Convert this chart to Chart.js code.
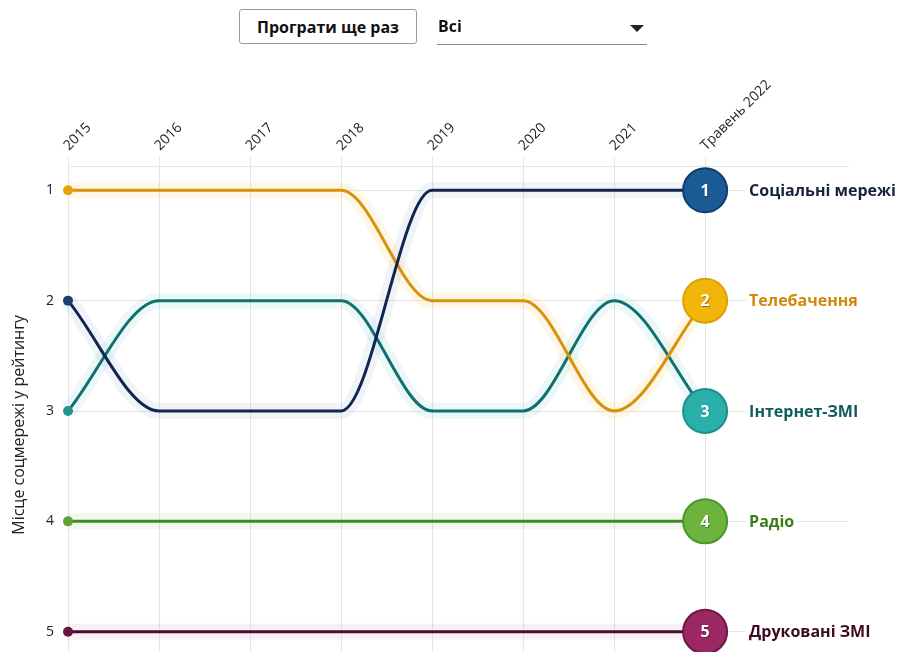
<!DOCTYPE html>
<html>
<head>
<meta charset="utf-8">
<script src="https://cdn.jsdelivr.net/npm/chart.js@4"></script>
<style>
  html,body{margin:0;padding:0;background:#fff;overflow:hidden;width:901px;height:652px;font-family:"Open Sans",sans-serif;}
  #wrap{position:relative;width:901px;height:652px;overflow:hidden;}
  canvas{position:absolute;left:0;top:0;}
  .btn{position:absolute;left:239px;top:9px;width:176px;height:33px;border:1px solid #9a9a9a;border-radius:3px;background:#fff;
       font-weight:700;font-size:16px;color:#111;display:flex;align-items:center;justify-content:center;box-sizing:content-box;}
  .sel{position:absolute;left:437px;top:10px;width:210px;height:34px;border-bottom:1px solid #8a8a8a;font-weight:700;font-size:16px;color:#111;}
  .sel span{position:absolute;left:1px;top:5px;}
  .sel i{position:absolute;right:3px;top:15px;width:0;height:0;border-left:7px solid transparent;border-right:7px solid transparent;border-top:7px solid #222;}
</style>
</head>
<body>
<div id="wrap">
  <canvas id="c" width="901" height="706"></canvas>
  <div class="btn">Програти ще раз</div>
  <div class="sel"><span>Всі</span><i></i></div>
</div>
<script>
const xLabels = ['2015','2016','2017','2018','2019','2020','2021','Травень 2022'];
const rankTicks = [1,2,3,4,5];

const seriesNames = ['Соціальні мережі','Телебачення','Інтернет-ЗМІ','Радіо','Друковані ЗМІ'];
const socialRanks   = [2,3,3,3,1,1,1,1];
const tvRanks       = [1,1,1,1,2,2,3,2];
const internetRanks = [3,2,2,2,3,3,2,3];
const radioRanks    = [4,4,4,4,4,4,4,4];
const printRanks    = [5,5,5,5,5,5,5,5];
const seriesValues = [socialRanks, tvRanks, internetRanks, radioRanks, printRanks];

const lineColors   = ['#11254f','#d8920e','#0f716f','#3f8b1d','#4b0c2b'];
const dotColors    = ['#173f73','#e7a20a','#23958f','#5aa532','#6c1240'];
const circleFills  = ['#1b5b95','#f2b50a','#2ab0ab','#6cb43e','#9b2863'];
const circleBorder = ['#0f3d6c','#dba205','#1f8f8a','#4f9628','#6f1845'];
const labelColors  = ['#15213d','#d4860b','#0f5c60','#3b7c1b','#3d0a22'];
const haloColors   = ['rgba(70,120,170,0.08)','rgba(242,181,10,0.10)','rgba(42,176,171,0.09)','rgba(108,180,62,0.09)','rgba(155,40,99,0.07)'];

const toPts = arr => arr.map((v,i)=>({x:i,y:v}));
const last = xLabels.length - 1;

const datasets = [];
seriesValues.forEach((vals, s) => {
  datasets.push({
    label: seriesNames[s],
    data: toPts(vals),
    borderColor: lineColors[s],
    borderWidth: 3,
    cubicInterpolationMode: 'monotone',
    clip: false,
    order: 1,
    pointRadius: ctx => ctx.dataIndex === 0 ? 5 : (ctx.dataIndex === last ? 22 : 0),
    pointBackgroundColor: ctx => ctx.dataIndex === last ? circleFills[s] : dotColors[s],
    pointBorderColor: ctx => ctx.dataIndex === last ? circleBorder[s] : dotColors[s],
    pointBorderWidth: ctx => ctx.dataIndex === last ? 2 : 0,
    isMain: true,
    sIdx: s
  });
  datasets.push({
    label: seriesNames[s] + ' halo',
    data: toPts(vals),
    borderColor: haloColors[s],
    borderWidth: 16,
    cubicInterpolationMode: 'monotone',
    clip: false,
    order: 5,
    pointRadius: 0
  });
});

const endLabels = {
  id: 'endLabels',
  afterDatasetsDraw(chart) {
    const ctx = chart.ctx;
    chart.data.datasets.forEach((ds, di) => {
      if (!ds.isMain) return;
      const meta = chart.getDatasetMeta(di);
      const pt = meta.data[last];
      const s = ds.sIdx;
      ctx.save();
      ctx.font = '700 16px "Open Sans", sans-serif';
      ctx.textAlign = 'center';
      ctx.textBaseline = 'middle';
      ctx.fillStyle = 'rgba(0,0,0,0.35)';
      ctx.fillText(String(ds.data[last].y), pt.x + 0.8, pt.y + 1.8);
      ctx.fillStyle = '#ffffff';
      ctx.fillText(String(ds.data[last].y), pt.x, pt.y + 1);
      ctx.font = '700 16px "Open Sans", sans-serif';
      ctx.textAlign = 'left';
      const lx = pt.x + 44;
      const w = ctx.measureText(ds.label).width;
      ctx.fillStyle = '#ffffff';
      ctx.fillRect(lx - 3, pt.y - 11, w + 6, 22);
      ctx.fillStyle = labelColors[s];
      ctx.fillText(ds.label, lx, pt.y + 1);
      ctx.restore();
    });
  }
};

new Chart(document.getElementById('c'), {
  type: 'line',
  data: { datasets },
  plugins: [endLabels],
  options: {
    responsive: false,
    animation: false,
    devicePixelRatio: 1,
    layout: { autoPadding: false, padding: { left: 0, right: 53, top: 0, bottom: 0 } },
    plugins: { legend: { display: false }, tooltip: { enabled: false } },
    scales: {
      x: {
        type: 'linear',
        position: 'top',
        min: 0,
        max: 8.57,
        afterBuildTicks: sc => { sc.ticks = xLabels.map((_, i) => ({ value: i })); },
        afterFit: sc => { sc.height = 166; },
        ticks: {
          callback: v => xLabels[v],
          autoSkip: false,
          minRotation: 45,
          maxRotation: 45,
          padding: 3,
          labelOffset: 10,
          color: '#222',
          font: { family: '"Open Sans", sans-serif', size: 14 }
        },
        grid: { color: '#e6e6e6', lineWidth: 1, drawTicks: true, tickLength: 9, tickColor: '#e6e6e6' },
        border: { display: true, color: '#e6e6e6' }
      },
      y: {
        type: 'linear',
        position: 'left',
        reverse: true,
        min: 0.78,
        max: 5.47,
        afterBuildTicks: sc => { sc.ticks = rankTicks.map(v => ({ value: v })); },
        afterFit: sc => { sc.width = 68; },
        ticks: {
          callback: v => String(v),
          padding: 14,
          color: '#222',
          font: { family: '"Open Sans", sans-serif', size: 14 }
        },
        grid: { color: '#e6e6e6', lineWidth: 1, drawTicks: false },
        border: { display: false },
        title: {
          display: true,
          text: 'Місце соцмережі у рейтингу',
          color: '#222',
          font: { family: '"Open Sans", sans-serif', size: 16 },
          padding: { top: 10, bottom: 0 }
        }
      }
    }
  }
});
</script>
</body>
</html>
